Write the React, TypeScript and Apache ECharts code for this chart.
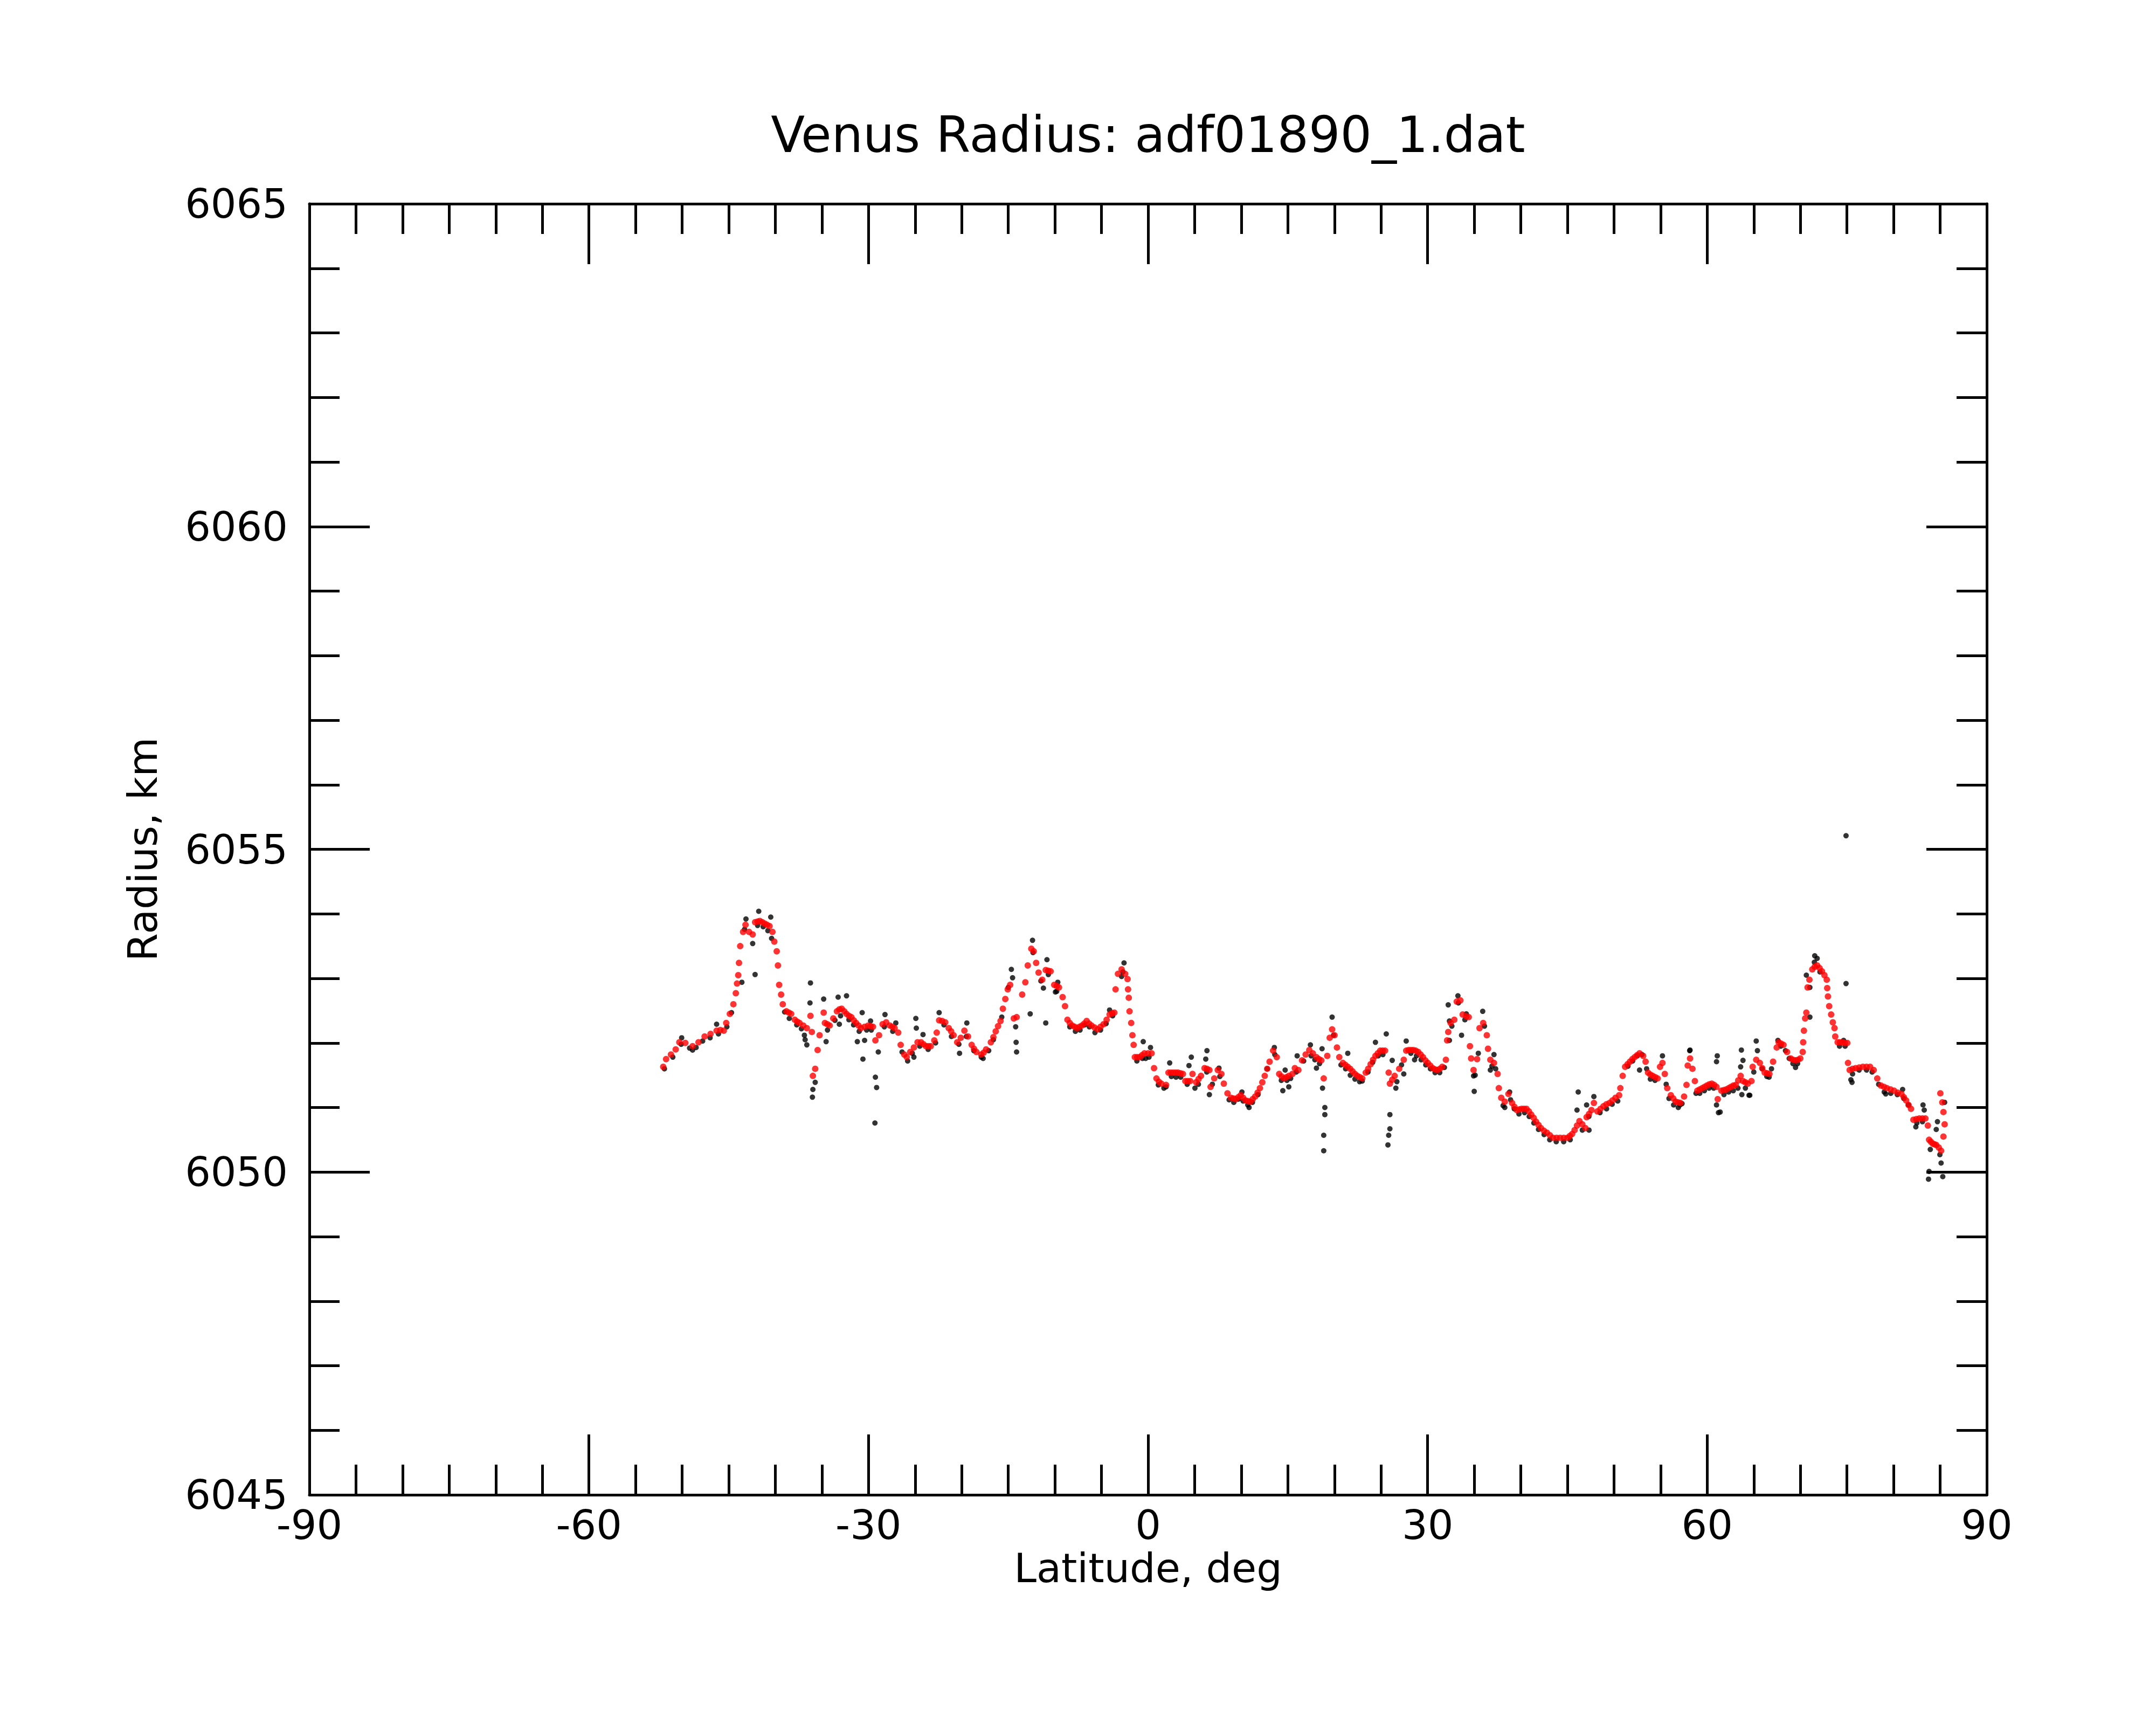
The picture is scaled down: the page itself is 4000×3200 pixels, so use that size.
import React, { useEffect, useRef } from "react";
import * as echarts from "echarts";

const TITLE = "Venus Radius: adf01890_1.dat";
const X_NAME = "Latitude, deg";
const Y_NAME = "Radius, km";
const X_MIN = -90;
const X_MAX = 90;
const X_STEP = 30;
const Y_MIN = 6045;
const Y_MAX = 6065;
const Y_STEP = 5;

// Smoothed radius profile (red), [latitude, radius km]
const smoothed: number[][] = [
  [-52.03, 6051.63], [-51.72, 6051.75], [-51.2, 6051.82], [-50.69, 6051.9], [-50.3, 6052.01], [-49.66, 6052.0],
  [-48.88, 6051.95], [-48.24, 6052.01], [-47.59, 6052.1], [-46.95, 6052.14], [-46.3, 6052.19], [-45.9, 6052.2],
  [-45.53, 6052.19], [-45.27, 6052.31], [-44.88, 6052.45], [-44.5, 6052.6], [-44.24, 6052.77], [-44.11, 6052.92],
  [-43.98, 6053.05], [-43.9, 6053.24], [-43.77, 6053.5], [-43.46, 6053.72], [-43.2, 6053.83], [-42.82, 6053.72],
  [-42.43, 6053.68], [-42.17, 6053.87], [-41.9, 6053.88], [-41.66, 6053.89], [-41.4, 6053.87], [-41.14, 6053.85],
  [-40.88, 6053.83], [-40.62, 6053.81], [-40.31, 6053.72], [-40.11, 6053.57], [-39.85, 6053.42], [-39.72, 6053.2],
  [-39.59, 6052.9], [-39.38, 6052.75], [-39.2, 6052.6], [-38.81, 6052.49], [-38.55, 6052.47], [-38.3, 6052.45],
  [-37.91, 6052.36], [-37.65, 6052.33], [-37.4, 6052.31], [-37.0, 6052.27], [-36.62, 6052.23], [-36.23, 6052.42],
  [-36.08, 6052.17], [-35.97, 6051.49], [-35.72, 6051.6], [-35.46, 6051.89], [-35.25, 6052.12], [-34.81, 6052.47],
  [-34.68, 6052.31], [-34.42, 6052.29], [-34.17, 6052.27], [-33.78, 6052.38], [-33.39, 6052.49], [-33.13, 6052.52],
  [-32.88, 6052.53], [-32.6, 6052.49], [-32.36, 6052.45], [-32.1, 6052.42], [-31.84, 6052.4], [-31.58, 6052.35],
  [-31.33, 6052.31], [-31.07, 6052.27], [-30.81, 6052.23], [-30.42, 6052.25], [-30.04, 6052.27], [-29.78, 6052.26],
  [-29.52, 6052.25], [-29.26, 6052.04], [-28.87, 6052.12], [-28.49, 6052.29], [-28.1, 6052.32], [-27.71, 6052.27],
  [-27.45, 6052.25], [-27.2, 6052.23], [-26.81, 6052.16], [-26.55, 6051.97], [-26.16, 6051.82], [-25.9, 6051.78],
  [-25.52, 6051.86], [-25.13, 6051.93], [-24.74, 6052.01], [-24.36, 6052.01], [-24.1, 6051.98], [-23.84, 6051.95],
  [-23.58, 6051.95], [-23.32, 6051.95], [-22.94, 6052.04], [-22.68, 6052.16], [-22.42, 6052.35], [-22.1, 6052.34],
  [-21.77, 6052.32], [-21.39, 6052.23], [-21.13, 6052.18], [-20.87, 6052.12], [-20.48, 6052.01], [-20.1, 6052.08],
  [-19.71, 6052.19], [-19.32, 6052.1], [-18.93, 6051.97], [-18.68, 6051.91], [-18.42, 6051.86], [-17.9, 6051.82],
  [-17.64, 6051.85], [-17.38, 6051.9], [-16.87, 6052.01], [-16.6, 6052.09], [-16.35, 6052.18], [-16.1, 6052.26],
  [-15.83, 6052.34], [-15.58, 6052.53], [-15.32, 6052.68], [-15.06, 6052.83], [-14.8, 6052.9], [-14.41, 6052.38],
  [-14.1, 6052.4], [-13.51, 6052.75], [-13.17, 6052.94], [-12.91, 6053.2], [-12.53, 6053.46], [-12.27, 6053.42],
  [-12.01, 6053.24], [-11.75, 6053.09], [-11.36, 6052.98], [-10.98, 6053.13], [-10.72, 6053.12], [-10.46, 6053.11],
  [-10.07, 6052.9], [-9.8, 6052.88], [-9.56, 6052.86], [-9.17, 6052.71], [-8.91, 6052.57], [-8.65, 6052.36],
  [-8.4, 6052.31], [-8.14, 6052.27], [-7.88, 6052.25], [-7.62, 6052.23], [-7.36, 6052.25], [-7.1, 6052.27],
  [-6.85, 6052.3], [-6.59, 6052.34], [-6.33, 6052.3], [-6.07, 6052.27], [-5.75, 6052.24], [-5.42, 6052.21],
  [-5.1, 6052.25], [-4.78, 6052.29], [-4.45, 6052.36], [-4.13, 6052.44], [-3.85, 6052.46], [-3.62, 6052.47],
  [-3.49, 6052.83], [-3.23, 6053.07], [-2.84, 6053.14], [-2.46, 6053.07], [-2.2, 6052.99], [-2.15, 6052.83],
  [-2.07, 6052.7], [-1.99, 6052.49], [-1.81, 6052.31], [-1.68, 6052.12], [-1.55, 6051.97], [-1.42, 6051.78],
  [-1.17, 6051.78], [-0.91, 6051.78], [-0.65, 6051.81], [-0.39, 6051.84], [0.0, 6051.84], [0.38, 6051.84],
  [0.64, 6051.61], [0.9, 6051.45], [1.16, 6051.4], [1.42, 6051.37], [1.93, 6051.35], [2.19, 6051.54],
  [2.45, 6051.54], [2.71, 6051.54], [2.97, 6051.54], [3.22, 6051.54], [3.48, 6051.53], [3.74, 6051.52],
  [4.0, 6051.41], [4.26, 6051.41], [4.52, 6051.41], [4.77, 6051.52], [5.16, 6051.39], [5.42, 6051.44],
  [5.68, 6051.49], [6.06, 6051.61], [6.32, 6051.6], [6.58, 6051.58], [6.71, 6051.32], [7.1, 6051.45],
  [7.48, 6051.58], [7.87, 6051.52], [8.13, 6051.37], [8.52, 6051.22], [8.9, 6051.15], [9.16, 6051.14],
  [9.42, 6051.13], [9.68, 6051.16], [9.94, 6051.19], [10.2, 6051.15], [10.45, 6051.11], [10.71, 6051.1],
  [10.97, 6051.09], [11.23, 6051.13], [11.49, 6051.17], [11.75, 6051.23], [12.0, 6051.3], [12.26, 6051.39],
  [12.52, 6051.49], [12.78, 6051.6], [13.04, 6051.71], [13.42, 6051.88], [13.81, 6051.78], [14.07, 6051.52],
  [14.33, 6051.48], [14.59, 6051.45], [14.85, 6051.47], [15.1, 6051.49], [15.49, 6051.52], [15.75, 6051.61],
  [16.13, 6051.58], [16.52, 6051.73], [16.91, 6051.82], [17.3, 6051.89], [17.68, 6051.84], [18.07, 6051.78],
  [18.33, 6051.75], [18.59, 6051.73], [18.85, 6051.45], [19.23, 6051.8], [19.49, 6052.08], [19.75, 6052.21],
  [20.01, 6052.12], [20.27, 6051.93], [20.52, 6051.78], [20.91, 6051.69], [21.17, 6051.66], [21.43, 6051.63],
  [21.69, 6051.6], [21.94, 6051.56], [22.2, 6051.52], [22.46, 6051.49], [22.72, 6051.47], [22.98, 6051.45],
  [23.36, 6051.54], [23.62, 6051.6], [23.88, 6051.67], [24.14, 6051.74], [24.4, 6051.8], [24.65, 6051.84],
  [24.91, 6051.88], [25.17, 6051.88], [25.43, 6051.88], [25.82, 6051.54], [25.95, 6051.37], [26.2, 6051.43],
  [26.46, 6051.49], [26.95, 6051.6], [27.44, 6051.74], [27.7, 6051.88], [27.95, 6051.89], [28.21, 6051.89],
  [28.47, 6051.89], [28.73, 6051.88], [28.99, 6051.86], [29.25, 6051.82], [29.5, 6051.78], [29.76, 6051.73],
  [30.02, 6051.69], [30.28, 6051.65], [30.54, 6051.61], [30.8, 6051.59], [31.05, 6051.58], [31.31, 6051.6],
  [31.57, 6051.63], [31.96, 6051.74], [32.09, 6052.04], [32.21, 6052.17], [32.47, 6052.31], [32.86, 6052.36],
  [33.12, 6052.64], [33.51, 6052.66], [33.76, 6052.44], [34.15, 6052.41], [34.41, 6052.4], [34.54, 6051.95],
  [34.67, 6051.76], [34.93, 6051.58], [35.31, 6051.75], [35.57, 6052.23], [35.96, 6052.31], [36.35, 6052.12],
  [36.48, 6051.91], [36.73, 6051.74], [37.12, 6051.69], [37.51, 6051.52], [37.64, 6051.3], [37.9, 6051.15],
  [38.28, 6051.09], [38.67, 6051.21], [39.06, 6051.07], [39.31, 6051.01], [39.57, 6050.96], [39.83, 6050.97],
  [40.09, 6050.98], [40.35, 6050.98], [40.61, 6050.98], [40.87, 6050.94], [41.12, 6050.89], [41.38, 6050.84],
  [41.64, 6050.78], [41.9, 6050.73], [42.16, 6050.68], [42.48, 6050.64], [42.8, 6050.61], [43.12, 6050.57],
  [43.45, 6050.53], [43.84, 6050.53], [44.22, 6050.53], [44.61, 6050.53], [45.0, 6050.53], [45.26, 6050.56],
  [45.51, 6050.59], [45.77, 6050.65], [46.03, 6050.72], [46.29, 6050.79], [46.6, 6050.74], [46.93, 6050.68],
  [47.06, 6050.85], [47.32, 6050.9], [47.58, 6050.96], [47.84, 6051.07], [48.22, 6050.94], [48.55, 6050.98],
  [48.87, 6051.02], [49.19, 6051.05], [49.51, 6051.07], [49.84, 6051.11], [50.16, 6051.15], [50.55, 6051.19],
  [50.68, 6051.3], [50.93, 6051.49], [51.19, 6051.63], [51.45, 6051.67], [51.71, 6051.71], [51.97, 6051.75],
  [52.22, 6051.78], [52.48, 6051.81], [52.74, 6051.84], [53.13, 6051.8], [53.39, 6051.71], [53.65, 6051.54],
  [53.9, 6051.51], [54.16, 6051.49], [54.42, 6051.47], [54.68, 6051.45], [54.94, 6051.63], [55.2, 6051.69],
  [55.45, 6051.52], [55.71, 6051.3], [56.1, 6051.19], [56.36, 6051.14], [56.62, 6051.09], [56.88, 6051.08],
  [57.13, 6051.07], [57.52, 6051.17], [57.78, 6051.35], [57.91, 6051.65], [58.16, 6051.76], [58.42, 6051.6],
  [58.68, 6051.41], [58.94, 6051.26], [59.2, 6051.28], [59.46, 6051.3], [59.72, 6051.32], [59.97, 6051.34],
  [60.23, 6051.36], [60.49, 6051.37], [60.75, 6051.35], [61.0, 6051.32], [61.13, 6051.13], [61.52, 6051.26],
  [61.78, 6051.27], [62.04, 6051.28], [62.3, 6051.3], [62.55, 6051.32], [62.81, 6051.34], [63.07, 6051.35],
  [63.33, 6051.42], [63.59, 6051.49], [63.84, 6051.41], [64.1, 6051.39], [64.36, 6051.37], [64.75, 6051.41],
  [64.88, 6051.63], [65.26, 6051.74], [65.65, 6051.69], [65.91, 6051.61], [66.17, 6051.54], [66.43, 6051.53],
  [66.68, 6051.52], [67.07, 6051.71], [67.46, 6051.93], [67.67, 6052.01], [67.93, 6051.99], [68.19, 6051.97],
  [68.57, 6051.86], [68.96, 6051.76], [69.22, 6051.74], [69.48, 6051.73], [69.74, 6051.74], [69.99, 6051.76],
  [70.25, 6051.86], [70.3, 6052.01], [70.38, 6052.19], [70.51, 6052.38], [70.64, 6052.47], [70.77, 6052.86],
  [70.97, 6052.98], [71.28, 6053.14], [71.54, 6053.18], [71.8, 6053.2], [72.06, 6053.16], [72.32, 6053.11],
  [72.58, 6053.05], [72.83, 6052.98], [72.88, 6052.85], [72.96, 6052.72], [73.09, 6052.57], [73.3, 6052.44],
  [73.48, 6052.32], [73.66, 6052.23], [73.74, 6052.1], [74.0, 6052.01], [74.25, 6052.01], [74.51, 6052.01],
  [74.77, 6052.0], [75.03, 6052.0], [75.11, 6051.69], [75.29, 6051.58], [75.6, 6051.6], [75.93, 6051.61],
  [76.32, 6051.62], [76.71, 6051.63], [77.1, 6051.63], [77.48, 6051.63], [77.87, 6051.58], [78.25, 6051.45],
  [78.64, 6051.34], [78.97, 6051.32], [79.29, 6051.3], [79.68, 6051.28], [80.06, 6051.26], [80.45, 6051.23],
  [80.84, 6051.21], [81.1, 6051.16], [81.35, 6051.11], [81.61, 6051.04], [81.87, 6050.98], [82.13, 6050.81],
  [82.45, 6050.82], [82.77, 6050.83], [83.1, 6050.83], [83.42, 6050.83], [83.68, 6050.72], [83.81, 6050.5],
  [84.0, 6050.47], [84.2, 6050.44], [84.39, 6050.43], [84.58, 6050.42], [84.85, 6050.38], [85.1, 6050.33],
  [85.35, 6050.55], [85.48, 6050.74], [85.35, 6050.93], [85.23, 6051.08], [85.02, 6051.22],
];

// Raw radius samples (black), [latitude, radius km]
const raw: number[][] = [
  [-51.9, 6051.6], [-51.0, 6051.78], [-50.1, 6051.98], [-50.05, 6052.08], [-49.2, 6051.92], [-48.88, 6051.89],
  [-48.5, 6051.93], [-47.8, 6052.03], [-47.0, 6052.08], [-46.3, 6052.29], [-46.1, 6052.14], [-45.2, 6052.25],
  [-44.7, 6052.47], [-43.59, 6052.94], [-43.3, 6053.76], [-43.15, 6053.92], [-42.43, 6053.54], [-42.17, 6053.06],
  [-41.78, 6054.04], [-41.9, 6053.82], [-41.3, 6053.8], [-40.8, 6053.74], [-40.49, 6053.95], [-40.4, 6053.62],
  [-39.0, 6052.48], [-38.5, 6052.38], [-37.7, 6052.28], [-37.2, 6052.22], [-36.88, 6052.12], [-36.8, 6052.05],
  [-36.62, 6051.97], [-36.28, 6052.62], [-36.23, 6052.93], [-36.02, 6051.16], [-35.97, 6051.28], [-35.72, 6051.39],
  [-34.81, 6052.68], [-34.55, 6052.02], [-34.4, 6052.2], [-33.6, 6052.35], [-33.26, 6052.71], [-33.13, 6052.29],
  [-33.0, 6052.42], [-32.36, 6052.73], [-32.1, 6052.36], [-31.6, 6052.28], [-31.2, 6052.02], [-31.0, 6052.18],
  [-30.68, 6052.47], [-30.6, 6051.75], [-30.42, 6052.04], [-30.2, 6052.2], [-29.78, 6052.34], [-29.7, 6052.2],
  [-29.31, 6050.76], [-29.26, 6051.47], [-29.13, 6051.31], [-28.95, 6051.86], [-28.3, 6052.25], [-28.23, 6052.44],
  [-27.4, 6052.18], [-27.07, 6052.31], [-26.4, 6051.86], [-25.8, 6051.72], [-25.3, 6051.84], [-25.13, 6051.78],
  [-24.92, 6052.38], [-24.87, 6052.23], [-24.5, 6051.95], [-24.15, 6052.13], [-23.6, 6051.9], [-22.8, 6052.0],
  [-22.42, 6052.47], [-21.9, 6052.28], [-21.1, 6052.1], [-20.3, 6051.98], [-20.23, 6051.84], [-19.5, 6052.1],
  [-19.45, 6052.31], [-18.7, 6051.88], [-17.9, 6051.78], [-17.7, 6051.76], [-17.1, 6051.88], [-16.6, 6052.05],
  [-15.7, 6052.4], [-15.0, 6052.86], [-14.67, 6053.14], [-14.54, 6053.01], [-14.21, 6052.25], [-14.16, 6052.01],
  [-14.11, 6051.86], [-12.65, 6052.45], [-12.4, 6053.59], [-12.35, 6053.4], [-11.5, 6052.96], [-11.23, 6052.85],
  [-10.98, 6052.31], [-10.85, 6053.29], [-10.7, 6053.06], [-9.94, 6052.79], [-9.8, 6052.8], [-9.69, 6052.94],
  [-8.4, 6052.25], [-7.8, 6052.18], [-7.3, 6052.2], [-6.8, 6052.28], [-6.3, 6052.25], [-5.7, 6052.16],
  [-5.1, 6052.2], [-4.5, 6052.3], [-4.13, 6052.51], [-3.8, 6052.42], [-2.84, 6053.03], [-2.7, 6053.1],
  [-2.58, 6053.24], [-1.2, 6051.72], [-0.6, 6051.76], [-0.52, 6052.02], [-0.26, 6051.76], [0.1, 6051.78],
  [0.26, 6051.93], [1.1, 6051.35], [1.7, 6051.3], [1.93, 6051.32], [2.32, 6051.69], [2.5, 6051.48],
  [3.0, 6051.47], [3.5, 6051.47], [4.2, 6051.36], [4.39, 6051.65], [4.64, 6051.78], [5.03, 6051.3],
  [5.4, 6051.36], [6.19, 6051.75], [6.3, 6051.55], [6.32, 6051.88], [6.58, 6051.2], [6.9, 6051.36],
  [7.61, 6051.61], [7.7, 6051.48], [8.7, 6051.12], [9.2, 6051.08], [9.7, 6051.13], [10.07, 6051.24],
  [10.2, 6051.1], [10.7, 6051.04], [10.84, 6051.0], [11.2, 6051.08], [11.8, 6051.2], [12.8, 6051.6],
  [13.55, 6051.93], [13.6, 6051.82], [14.3, 6051.42], [14.46, 6051.26], [14.71, 6051.58], [14.9, 6051.42],
  [15.1, 6051.32], [15.3, 6051.45], [15.9, 6051.55], [16.0, 6051.8], [16.7, 6051.72], [17.42, 6051.97],
  [17.5, 6051.8], [17.9, 6051.74], [18.07, 6051.61], [18.4, 6051.68], [18.67, 6051.91], [18.72, 6051.3],
  [18.85, 6050.57], [18.85, 6050.33], [18.97, 6051.0], [18.97, 6050.89], [19.75, 6052.4], [19.9, 6052.12],
  [20.7, 6051.66], [21.2, 6051.6], [21.43, 6051.84], [21.7, 6051.5], [22.2, 6051.44], [22.7, 6051.4],
  [22.98, 6051.41], [23.6, 6051.55], [24.1, 6051.7], [24.4, 6052.01], [24.7, 6051.8], [25.2, 6051.82],
  [25.56, 6052.14], [25.74, 6050.42], [25.82, 6050.57], [25.95, 6050.67], [25.95, 6050.89], [26.2, 6051.73],
  [26.59, 6051.3], [26.7, 6051.4], [27.2, 6051.66], [27.44, 6051.52], [27.7, 6052.03], [28.2, 6051.84],
  [28.6, 6051.74], [28.8, 6051.8], [29.3, 6051.74], [29.8, 6051.66], [30.3, 6051.6], [30.8, 6051.54],
  [31.3, 6051.54], [31.8, 6051.62], [32.21, 6052.59], [32.34, 6052.04], [32.34, 6052.34], [32.6, 6052.26],
  [33.25, 6052.73], [33.3, 6052.62], [33.64, 6052.12], [34.0, 6052.36], [34.15, 6052.45], [34.93, 6051.49],
  [35.0, 6051.25], [35.1, 6051.5], [35.44, 6051.84], [35.91, 6052.49], [36.1, 6052.26], [36.73, 6051.58],
  [36.9, 6051.64], [37.12, 6051.82], [37.3, 6051.6], [38.1, 6051.03], [38.28, 6051.0], [38.8, 6051.24],
  [38.9, 6051.12], [39.3, 6050.98], [39.8, 6050.9], [40.4, 6050.92], [40.9, 6050.86], [41.4, 6050.76],
  [41.9, 6050.66], [42.5, 6050.58], [43.1, 6050.5], [43.8, 6050.47], [44.6, 6050.47], [45.3, 6050.5],
  [46.03, 6050.96], [46.16, 6051.24], [46.6, 6050.65], [47.06, 6051.04], [47.3, 6050.86], [47.32, 6050.65],
  [47.84, 6051.17], [48.5, 6050.92], [49.2, 6050.98], [49.8, 6051.05], [50.4, 6051.1], [51.5, 6051.64],
  [52.0, 6051.72], [52.5, 6051.8], [52.74, 6051.58], [53.0, 6051.82], [53.5, 6051.6], [53.9, 6051.44],
  [54.4, 6051.42], [55.2, 6051.8], [55.6, 6051.36], [55.9, 6051.14], [56.4, 6051.04], [56.9, 6051.0],
  [57.08, 6051.04], [57.3, 6051.06], [58.12, 6051.88], [58.16, 6051.89], [58.8, 6051.22], [59.2, 6051.22],
  [59.7, 6051.26], [60.2, 6051.3], [60.7, 6051.3], [61.0, 6051.71], [61.0, 6051.04], [61.08, 6051.8],
  [61.21, 6050.92], [61.39, 6050.93], [61.8, 6051.2], [62.3, 6051.24], [62.8, 6051.26], [63.3, 6051.3],
  [63.59, 6051.63], [63.67, 6051.89], [63.72, 6051.2], [63.84, 6051.73], [64.1, 6051.3], [64.49, 6051.19],
  [64.57, 6051.19], [65.0, 6051.55], [65.26, 6052.03], [65.39, 6051.88], [65.9, 6051.6], [66.4, 6051.48],
  [66.64, 6051.47], [66.9, 6051.6], [67.59, 6052.04], [67.9, 6051.95], [68.4, 6051.88], [68.8, 6051.76],
  [69.2, 6051.68], [69.48, 6051.62], [69.7, 6051.68], [70.64, 6053.05], [71.02, 6052.86], [71.02, 6052.4],
  [71.5, 6053.25], [71.54, 6053.35], [71.8, 6053.31], [72.1, 6053.1], [74.2, 6051.95], [74.64, 6052.04],
  [74.8, 6051.95], [74.9, 6052.92], [74.9, 6055.21], [75.42, 6051.43], [75.54, 6051.39], [75.6, 6051.52],
  [76.3, 6051.58], [77.1, 6051.58], [77.7, 6051.55], [78.4, 6051.36], [79.0, 6051.24], [79.16, 6051.21],
  [79.7, 6051.22], [80.4, 6051.2], [80.97, 6051.28], [81.1, 6051.14], [81.6, 6051.04], [82.39, 6050.7],
  [82.5, 6050.76], [83.1, 6050.78], [83.16, 6051.04], [83.29, 6050.96], [83.75, 6049.89], [83.81, 6050.01],
  [83.94, 6050.35], [84.58, 6050.66], [84.71, 6050.78], [84.97, 6050.27], [85.1, 6050.14], [85.28, 6049.93],
  [85.48, 6051.08],
];

const GRID = { left: 574, right: 314, top: 378, bottom: 427 };
const FONT = "DejaVu Sans";

export default function App() {
  const ref = useRef<HTMLDivElement>(null);

  useEffect(() => {
    document.body.style.margin = "0";
    if (!ref.current) return;
    const chart = echarts.init(ref.current, undefined, { renderer: "svg" });

    const axisLine = { show: true, onZero: false, lineStyle: { color: "#000", width: 5 } };
    const axisTick = { show: true, inside: true, length: 112, lineStyle: { color: "#000", width: 5 } };
    const minorTickX = { show: true, splitNumber: 6, length: 56, lineStyle: { color: "#000", width: 5 } };
    const minorTickY = { show: true, splitNumber: 5, length: 56, lineStyle: { color: "#000", width: 5 } };
    const labelStyle = { color: "#000", fontFamily: FONT, fontSize: 75 };

    const xBase = {
      type: "value" as const,
      min: X_MIN,
      max: X_MAX,
      interval: X_STEP,
      axisLine,
      axisTick,
      minorTick: minorTickX,
      splitLine: { show: false },
      minorSplitLine: { show: false },
    };
    const yBase = {
      type: "value" as const,
      min: Y_MIN,
      max: Y_MAX,
      interval: Y_STEP,
      axisLine,
      axisTick,
      minorTick: minorTickY,
      splitLine: { show: false },
      minorSplitLine: { show: false },
    };

    chart.setOption({
      animation: false,
      backgroundColor: "#fff",
      grid: { ...GRID, containLabel: false },
      graphic: [
        {
          type: "text",
          x: GRID.left + (4000 - GRID.left - GRID.right) / 2,
          y: 250,
          style: {
            text: TITLE,
            fontFamily: FONT,
            fontSize: 92,
            fill: "#000",
            textAlign: "center",
            textVerticalAlign: "middle",
          },
        },
      ],
      xAxis: [
        {
          ...xBase,
          position: "bottom",
          name: X_NAME,
          nameLocation: "middle",
          nameGap: 98,
          nameTextStyle: { ...labelStyle },
          axisLabel: { ...labelStyle, margin: 18, showMinLabel: true, showMaxLabel: true, formatter: (v: number) => String(v) },
        },
        {
          ...xBase,
          position: "top",
          axisLabel: { show: false },
        },
      ],
      yAxis: [
        {
          ...yBase,
          position: "left",
          name: Y_NAME,
          nameLocation: "middle",
          nameGap: 272,
          nameTextStyle: { ...labelStyle },
          axisLabel: { ...labelStyle, margin: 40, showMinLabel: true, showMaxLabel: true, formatter: (v: number) => String(v) },
        },
        {
          ...yBase,
          position: "right",
          axisLabel: { show: false },
        },
      ],
      series: [
        {
          type: "scatter",
          name: "raw",
          xAxisIndex: 0,
          yAxisIndex: 0,
          data: raw,
          symbol: "circle",
          symbolSize: 10,
          itemStyle: { color: "#000" },
          silent: true,
        },
        {
          type: "scatter",
          name: "smoothed",
          xAxisIndex: 0,
          yAxisIndex: 0,
          data: smoothed,
          symbol: "circle",
          symbolSize: 12,
          itemStyle: { color: "#ff0000" },
          silent: true,
        },
      ],
    });

    return () => {
      chart.dispose();
    };
  }, []);

  return <div ref={ref} style={{ width: 4000, height: 3200 }} />;
}
